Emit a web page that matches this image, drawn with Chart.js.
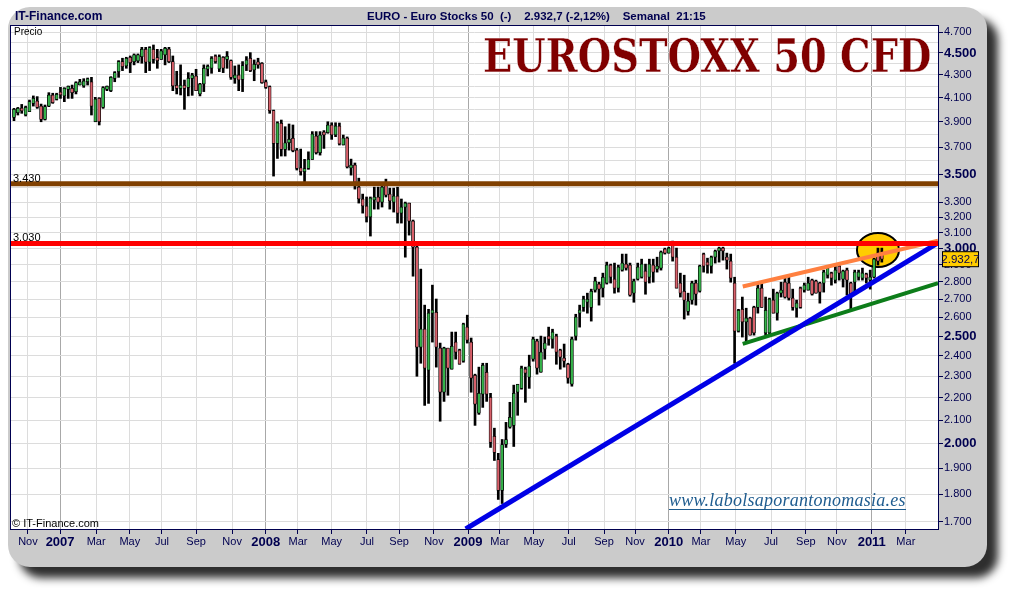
<!DOCTYPE html>
<html lang="es">
<head>
<meta charset="UTF-8">
<title>EUROSTOXX 50 CFD</title>
<script src="https://cdn.jsdelivr.net/npm/chart.js"></script>
<style>
    body { margin: 0; background: #fff; font-family: "Liberation Sans", Arial, sans-serif; }
    #wrap { position: relative; width: 1010px; height: 590px; overflow: hidden; }
    #panel { position: absolute; left: 8px; top: 7px; width: 979px; height: 560px; background: #cbcbcb;
             border-radius: 22px; box-shadow: 11px 11px 8px #2e2e2e; }
    canvas { position: absolute; left: 0; top: 0; }
    .head { position: absolute; color: #000050; font-weight: bold; white-space: pre; }
    #brand { left: 15px; top: 9px; font-size: 12px; }
    #info { left: 367px; top: 10px; font-size: 11.5px; }
    #title { position: absolute; left: 483px; top: 29px; font: bold 46px "DejaVu Serif", serif; color: #800000;
             white-space: pre; transform-origin: left top; transform: scaleX(0.835); -webkit-text-stroke: 0.3px #fff; }
    #site { position: absolute; left: 669px; top: 492px; font: italic 18px "Liberation Serif", serif; color: #1f5c8f;
            letter-spacing: 0.25px; border-bottom: 1px solid #1f5c8f; line-height: 17px; white-space: pre; }
</style>
</head>
<body>
<div id="wrap">
    <div id="panel"></div>
    <canvas id="chart" width="1010" height="590"></canvas>
    <div class="head" id="brand">IT-Finance.com</div>
    <div class="head" id="info">EURO - Euro Stocks 50  (-)    2.932,7 (-2,12%)    Semanal  21:15</div>
    <div id="title">EUROSTOXX 50 CFD</div>
    <div id="site">www.labolsaporantonomasia.es</div>
</div>
<script>
// weekly candles
const opens = [
    3937,3975,4011,3956,3984,4053,4072,4030,3920,4030,
    4124,4087,4144,4116,4173,4181,4153,4210,4202,4239,
    4239,3901,4095,4019,4173,4161,4269,4329,4420,4380,
    4460,4420,4426,4466,4534,4414,4534,4451,4441,4482,
    4537,4420,4202,4181,4196,4190,4269,4290,4133,4219,
    4350,4359,4472,4353,4460,4441,4429,4269,4299,4260,
    4390,4451,4344,4405,4405,4239,4196,3992,3730,3888,
    3683,3735,3769,3678,3546,3517,3541,3608,3787,3658,
    3817,3814,3875,3795,3867,3717,3772,3544,3566,3406,
    3323,3275,3201,3316,3337,3302,3420,3357,3302,3344,
    3227,3268,3295,3174,3007,2443,2536,2329,2622,2627,
    2438,2225,2438,2334,2469,2428,2373,2547,2469,2305,
    2130,2216,2319,2202,2030,1935,1815,1996,2069,2077,
    2225,2243,2334,2296,2383,2474,2319,2433,2495,2484,
    2500,2428,2383,2358,2262,2500,2622,2654,2682,2654,
    2750,2785,2762,2791,2897,2814,2762,2867,2903,2897,
    2733,2814,2825,2861,2825,2897,2873,2879,2995,2970,
    3039,2945,2791,2744,2632,2694,2791,2744,2964,2909,
    2891,2945,2983,3001,2945,2921,2791,2526,2643,2574,
    2595,2654,2654,2762,2516,2516,2694,2622,2733,2796,
    2791,2705,2649,2762,2750,2750,2808,2802,2791,2791,
    2837,2849,2808,2891,2814,2867,2791,2796,2825,2820,
    2843,2808,2825,2970,2970
];
const highs = [
    4011,4019,4044,4030,4081,4116,4110,4047,4039,4144,
    4139,4139,4190,4187,4202,4210,4239,4260,4266,4272,
    4278,4104,4101,4196,4202,4284,4329,4429,4451,4460,
    4472,4491,4491,4553,4553,4559,4575,4534,4534,4553,
    4553,4472,4332,4390,4254,4320,4314,4350,4225,4390,
    4390,4466,4482,4482,4466,4513,4435,4380,4390,4420,
    4466,4503,4435,4451,4411,4254,4202,3997,3901,3915,
    3861,3883,3875,3691,3686,3608,3665,3822,3822,3822,
    3830,3901,3893,3893,3891,3795,3780,3610,3581,3470,
    3357,3337,3337,3406,3406,3420,3463,3399,3399,3406,
    3323,3302,3295,3181,3032,2873,2666,2643,2779,2700,
    2464,2443,2438,2521,2521,2433,2568,2611,2490,2310,
    2344,2363,2363,2220,2065,1960,2017,2090,2179,2258,
    2262,2349,2344,2403,2495,2484,2500,2495,2547,2536,
    2510,2433,2459,2363,2495,2616,2666,2716,2733,2756,
    2825,2796,2849,2915,2903,2909,2897,2964,2964,2909,
    2814,2909,2933,2903,2933,2933,2945,2983,3001,3007,
    3045,3001,2849,2837,2733,2802,2808,2897,2970,2939,
    2952,2989,3007,3007,2970,2964,2825,2643,2711,2649,
    2600,2660,2791,2791,2711,2705,2756,2739,2796,2825,
    2825,2756,2694,2768,2791,2825,2814,2808,2796,2867,
    2885,2855,2897,2897,2867,2879,2796,2867,2867,2879,
    2849,2867,2939,3001,3001
];
const lows = [
    3910,3956,3970,3948,3984,4030,4011,3901,3915,4025,
    4053,4081,4095,4067,4095,4095,4133,4210,4190,4210,
    3956,3901,3875,4011,4161,4153,4239,4278,4338,4359,
    4320,4390,4411,4405,4320,4338,4405,4359,4441,4390,
    4411,4161,4133,4124,4003,4116,4121,4161,4116,4153,
    4290,4314,4405,4329,4320,4359,4260,4225,4161,4153,
    4338,4329,4248,4359,4225,4181,3970,3485,3615,3633,
    3633,3678,3665,3529,3492,3445,3534,3608,3648,3640,
    3691,3809,3761,3782,3717,3717,3544,3492,3392,3295,
    3227,3168,3077,3254,3254,3268,3337,3254,3234,3161,
    3161,2945,3083,2831,2300,2363,2165,2174,2469,2344,
    2095,2183,2211,2334,2383,2358,2368,2464,2225,2077,
    2125,2156,2183,1984,1931,1781,1766,1984,2065,1988,
    2121,2239,2179,2243,2373,2310,2319,2383,2453,2438,
    2358,2334,2344,2267,2253,2479,2547,2632,2622,2579,
    2739,2666,2711,2785,2791,2733,2739,2861,2867,2716,
    2682,2808,2820,2727,2791,2796,2855,2867,2964,2970,
    2921,2762,2711,2590,2611,2671,2666,2739,2855,2849,
    2849,2909,2915,2927,2873,2796,2363,2521,2495,2464,
    2505,2505,2622,2654,2505,2505,2622,2584,2711,2705,
    2694,2638,2600,2649,2739,2750,2722,2733,2677,2739,
    2820,2779,2791,2808,2768,2722,2638,2739,2808,2808,
    2791,2756,2820,2897,2915
];
const closes = [
    4003,4011,3989,4019,4067,4095,4019,3920,4025,4124,
    4058,4130,4124,4181,4196,4144,4231,4239,4245,4260,
    4030,4090,3901,4187,4190,4278,4320,4420,4374,4451,
    4411,4482,4482,4534,4414,4550,4441,4429,4519,4544,
    4420,4202,4181,4196,4181,4269,4299,4161,4219,4359,
    4368,4451,4420,4466,4359,4460,4278,4299,4254,4384,
    4435,4338,4396,4390,4231,4190,3992,3730,3893,3683,
    3735,3761,3673,3541,3517,3534,3608,3803,3658,3795,
    3795,3875,3795,3867,3725,3772,3551,3566,3442,3323,
    3275,3201,3330,3337,3302,3406,3350,3309,3344,3227,
    3268,3295,3174,3007,2443,2536,2339,2622,2627,2443,
    2225,2438,2339,2448,2418,2358,2563,2479,2291,2170,
    2220,2353,2216,2005,1964,1815,1996,2017,2112,2220,
    2262,2339,2315,2349,2484,2339,2418,2464,2484,2521,
    2418,2393,2373,2291,2484,2600,2632,2700,2688,2744,
    2802,2756,2825,2897,2825,2762,2885,2909,2879,2722,
    2802,2885,2903,2796,2903,2855,2891,2977,2970,3001,
    2945,2762,2733,2694,2688,2791,2727,2891,2891,2897,
    2945,2983,3001,2983,2927,2820,2526,2638,2574,2595,
    2505,2516,2762,2654,2638,2700,2622,2733,2750,2711,
    2705,2654,2677,2654,2779,2791,2727,2733,2739,2855,
    2879,2820,2867,2849,2861,2808,2727,2855,2855,2849,
    2820,2820,2933,2921,2933
];

// x axis, in weeks from the first candle
const monthWeeks = [3.6,11.9,21.2,29.9,38.2,47,56.3,65,73.3,82,91.1,99.4,108.4,117.2,125.4,134.2,143.2,152.3,160.3,169,177.3,186.3,195.4,204.4,212.4,221.4,230.2];
const monthLabels = ["Nov","2007","Mar","May","Jul","Sep","Nov","2008","Mar","May","Jul","Sep","Nov","2009","Mar","May","Jul","Sep","Nov","2010","Mar","May","Jul","Sep","Nov","2011","Mar"];

// price axis
const priceTicks = [1700,1800,1900,2000,2100,2200,2300,2400,2500,2600,2700,2800,2900,3000,3100,3200,3300,3400,3500,3600,3700,3800,3900,4000,4100,4200,4300,4400,4500,4600,4700];
const priceLabels = ["1.700","1.800","1.900","2.000","2.100","2.200","2.300","2.400","2.500","2.600","2.700","2.800","2.900","3.000","3.100","3.200","3.300","","3.500","","3.700","","3.900","","4.100","","4.300","","4.500","","4.700"];
const boldPrices = [2000,2500,3000,3500,4500];

// drawn lines: support levels and trend lines
const level1 = 3430, level2 = 3030;
const blueLine = [{x:116.6,y:1675},{x:238.5,y:3034}];
const orangeLine = [{x:188.1,y:2771},{x:238.5,y:3047}];
const greenLine = [{x:188.1,y:2460},{x:238.5,y:2791}];

const lastPrice = 2932.7;
const navy = "#000050";
const xMin = -0.77, xMax = 238.5;

const wicks = highs.map((h, i) => ({x: i, y: [lows[i], h]}));
const bodies = opens.map((o, i) => ({x: i, y: [o, closes[i]]}));
const candleColors = opens.map((o, i) => closes[i] >= o ? "#35b34a" : "#d8606a");

function levelLine(value, color, width) {
    return {type: "line", data: [{x: xMin, y: value}, {x: xMax, y: value}], borderColor: color, borderWidth: width, pointRadius: 0, order: 1};
}
function trendLine(points, color, width) {
    return {type: "line", data: points, borderColor: color, borderWidth: width, pointRadius: 0, order: 1};
}

// white plot area, the yellow ring and the texts that sit on the scales
const decorations = {
    id: "decorations",
    beforeDatasetsDraw(chart) {
        const {ctx, scales: {x, y}} = chart;
        ctx.save();
        ctx.fillStyle = "#ffcc00";
        ctx.strokeStyle = "#000";
        ctx.lineWidth = 2;
        ctx.beginPath();
        ctx.ellipse(x.getPixelForValue(223), y.getPixelForValue(2989), 21, 17, 0, 0, Math.PI * 2);
        ctx.fill();
        ctx.stroke();
        ctx.restore();
    },
    beforeDraw(chart) {
        const {ctx, chartArea: a} = chart;
        ctx.fillStyle = "#fff";
        ctx.fillRect(a.left, a.top, a.width, a.height);
    },
    afterDraw(chart) {
        const {ctx, chartArea: a, scales: {y}} = chart;
        ctx.save();
        ctx.strokeStyle = navy;
        ctx.lineWidth = 1;
        ctx.strokeRect(a.left - 0.5, a.top - 0.5, a.width + 1, a.height + 1);
        ctx.fillStyle = "#000";
        ctx.font = "11px 'Liberation Sans'";
        ctx.textBaseline = "alphabetic";
        ctx.fillText("3.430", a.left + 2, y.getPixelForValue(level1) - 2);
        ctx.fillText("3.030", a.left + 2, y.getPixelForValue(level2) - 2);
        ctx.font = "10px 'Liberation Sans'";
        ctx.fillText("Precio", a.left + 3, a.top + 9);
        ctx.font = "11px 'Liberation Sans'";
        ctx.fillText("© IT-Finance.com", a.left + 1, a.bottom - 2);
        // last price flag on the axis
        const py = y.getPixelForValue(lastPrice);
        ctx.fillStyle = "#ffcc00";
        ctx.strokeStyle = "#000";
        ctx.fillRect(a.right + 4, py - 7.5, 37, 15);
        ctx.strokeRect(a.right + 4.5, py - 7.5, 36, 15);
        ctx.fillStyle = "#000050";
        ctx.font = "11.5px 'Liberation Sans'";
        ctx.textAlign = "center";
        ctx.textBaseline = "middle";
        ctx.fillText("2.932,7", a.right + 22.5, py + 0.5);
        ctx.restore();
    }
};

new Chart(document.getElementById("chart"), {
    data: {
        datasets: [
            {type: "bar", data: wicks, backgroundColor: "#000", barThickness: 2, grouped: false, order: 3},
            {type: "bar", data: bodies, backgroundColor: candleColors, borderColor: "#000", borderWidth: 0.75, borderSkipped: false,
             barThickness: 3, minBarLength: 3, grouped: false, order: 2},
            levelLine(level1, "#804000", 5),
            levelLine(level2, "#ff0000", 5),
            trendLine(blueLine, "#0000e6", 5),
            trendLine(orangeLine, "#ff8040", 4),
            trendLine(greenLine, "#0d7d1a", 4)
        ]
    },
    options: {
        responsive: false,
        animation: false,
        events: [],
        layout: {padding: {left: 11, top: 26, right: 0, bottom: 0}},
        plugins: {legend: {display: false}, tooltip: {enabled: false}},
        scales: {
            x: {
                type: "linear",
                offset: false,
                min: xMin,
                max: xMax,
                afterBuildTicks: s => { s.ticks = monthWeeks.map(v => ({value: v})); },
                afterFit: s => { s.height = 61; },
                border: {display: false},
                grid: {
                    offset: false,
                    color: c => monthLabels[c.index] && monthLabels[c.index].length === 4 ? "#a8a8a8" : "#dcdcdc",
                    tickColor: navy,
                    tickLength: 5
                },
                ticks: {
                    autoSkip: false,
                    maxRotation: 0,
                    padding: 1,
                    color: navy,
                    callback: (v, i) => monthLabels[i],
                    font: c => monthLabels[c.index] && monthLabels[c.index].length === 4
                        ? {family: "Liberation Sans", size: 13, weight: "bold"}
                        : {family: "Liberation Sans", size: 11}
                }
            },
            y: {
                type: "logarithmic",
                position: "right",
                min: 1675,
                max: 4759,
                afterBuildTicks: s => { s.ticks = priceTicks.map(v => ({value: v})); },
                afterFit: s => { s.width = 72; },
                border: {display: false},
                grid: {
                    color: "#dcdcdc",
                    tickColor: c => priceLabels[c.index] ? navy : "rgba(0,0,0,0)",
                    tickLength: 5
                },
                ticks: {
                    autoSkip: false,
                    padding: 1,
                    color: navy,
                    callback: (v, i) => priceLabels[i],
                    font: c => boldPrices.includes(c.tick.value)
                        ? {family: "Liberation Sans", size: 13, weight: "bold"}
                        : {family: "Liberation Sans", size: 11}
                }
            }
        }
    },
    plugins: [decorations]
});
</script>
</body>
</html>
